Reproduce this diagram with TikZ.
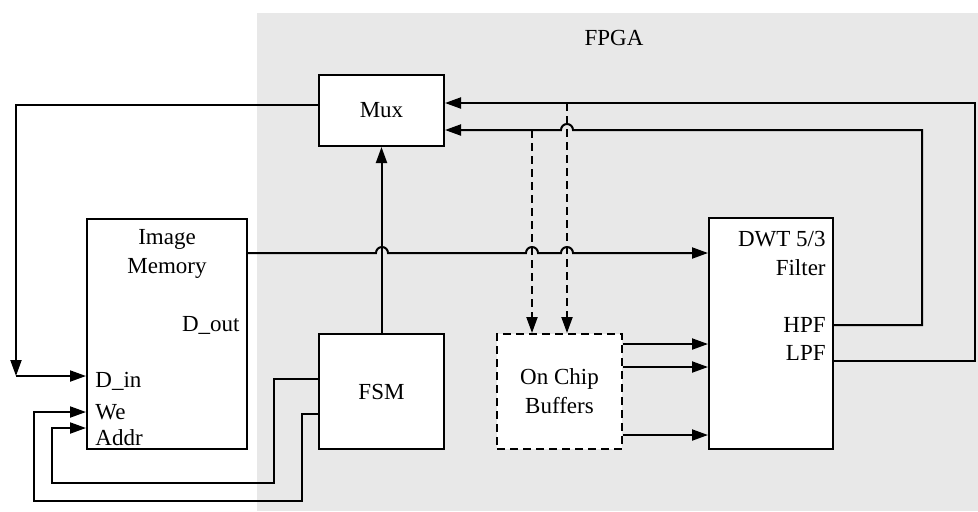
\documentclass[tikz,border=0pt]{standalone}
\usepackage{fontspec}
\setmainfont{Liberation Serif}
\usepackage{tikz}
\usetikzlibrary{arrows.meta,positioning}
\definecolor{fpgaGray}{HTML}{E8E8E8}

\begin{document}
\begin{tikzpicture}[
    x=0.5pt, y=-0.5pt,
    font=\fontsize{11.5}{14.5}\selectfont,
    box/.style={draw, line width=1pt, fill=white, minimum width=62.5pt, minimum height=57.5pt, align=center},
    lbl/.style={inner sep=0pt, align=center},
    arr/.style={-{Triangle[length=8pt, width=5.5pt]}, line width=1pt},
    dasharr/.style={arr, dash pattern=on 4pt off 2.5pt}
  ]
    \useasboundingbox (0,0) rectangle (978,511);
    \fill[fpgaGray] (257,13) rectangle (978,511);
    \node[lbl] (fpga) at (614,38) {FPGA};
    % blocks
    \node[box, minimum height=35.5pt] (mux) at (381.5,110.5) {Mux};
    \node[box, below=93pt of mux] (fsm) {FSM};
    \node[box, dash pattern=on 4pt off 2.5pt, right=25.5pt of fsm] (buf) {On Chip\\Buffers};
    \node[box, minimum width=62pt, minimum height=115.5pt, anchor=south west] (dwt) at ([xshift=42.5pt]buf.south east) {};
    \node[box, minimum width=80pt, minimum height=115pt, anchor=south east] (mem) at ([xshift=-35pt]fsm.south west) {};
    % port labels
    \node[lbl] (memname) at (167,254) {Image\\Memory};
    \node[lbl, anchor=east] (dout) at (240,325) {D\_out};
    \node[lbl, anchor=west] (din) at (95,381) {D\_in};
    \node[lbl, anchor=west] (we) at (95,412) {We};
    \node[lbl, anchor=west] (addr) at (95,438) {Addr};
    \node[lbl, anchor=east, align=right] (dwtname) at (826,253) {DWT 5/3\\Filter};
    \node[lbl, anchor=east] (hpf) at (826,325) {HPF};
    \node[lbl, anchor=east] (lpf) at (826,353) {LPF};
    \coordinate (dinc) at (16,376);
    \coordinate (tapA) at (532,130);
    \coordinate (tapB) at (567,103);
    % connections
    \draw[arr] ([yshift=2.75pt]mux.west) -| (dinc);
    \draw[arr] (dinc) -- (dinc -| mem.west);
    \draw[arr] ([yshift=6.25pt]fsm.west) -| (274,483) -| (52,428) -- (mem.west |- 0,428);
    \draw[arr] ([yshift=-11.25pt]fsm.west) -| (302,501) -| (34,412) -- (mem.west |- 0,412);
    \draw[arr] (fsm) -- (mux);
    \draw[arr] (mem.east |- dwtname) -- (376,253) arc[start angle=180, end angle=0, radius=3pt]
      -- (526,253) arc[start angle=180, end angle=0, radius=3pt]
      -- (561,253) arc[start angle=180, end angle=0, radius=3pt] -- (dwt.west |- dwtname);
    \draw[arr] ([yshift=4.25pt]dwt.east) -| (922,130) -- (573,130)
      arc[start angle=0, end angle=180, radius=3pt] -- ([yshift=-9.75pt]mux.east);
    \draw[arr] ([yshift=-13.75pt]dwt.east) -| (975,103) -- ([yshift=3.75pt]mux.east);
    \draw[dasharr] (tapA) -- (tapA |- buf.north);
    \draw[dasharr] (tapB) -- (tapB |- buf.north);
    \foreach \dy in {23.75,12.25,-21.75} {
      \coordinate (bo) at ([yshift=\dy pt]buf.east);
      \draw[arr] (bo) -- (bo -| dwt.west);
    }
  \end{tikzpicture}
\end{document}
